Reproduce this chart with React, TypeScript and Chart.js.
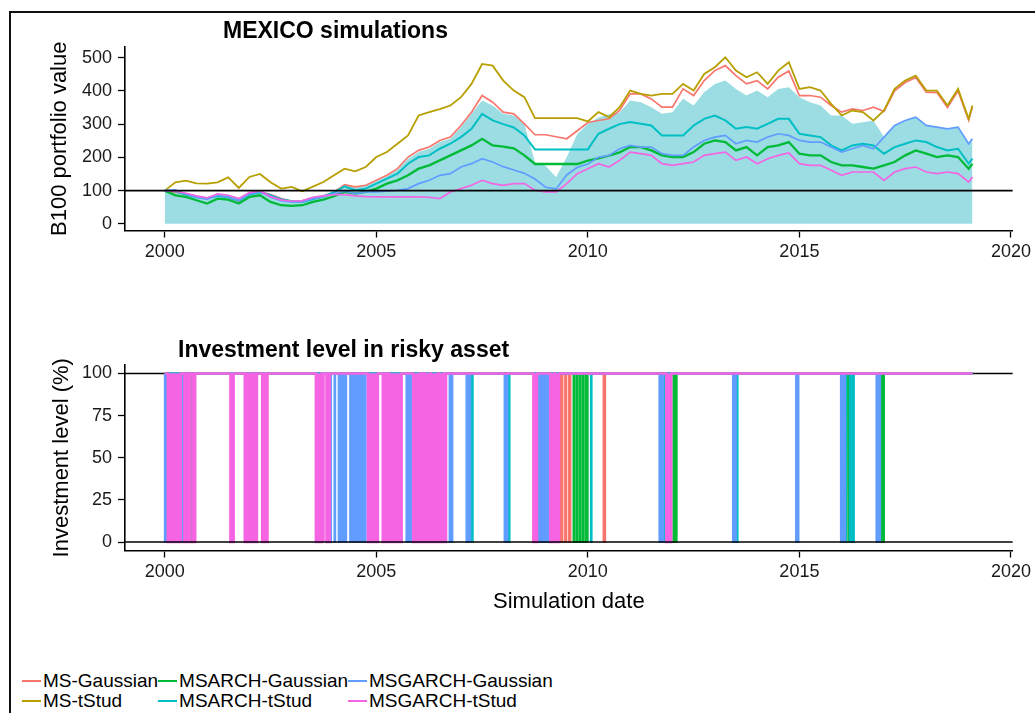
import React, { useEffect, useRef } from 'react';
import { Chart, registerables } from 'chart.js';

Chart.register(...registerables);

const FONT = '"Liberation Sans", Arial, Helvetica, sans-serif';

// ---------- categories / axis ticks ----------
const DATES = [
  2000, 2000.25, 2000.5, 2000.75,
  2001, 2001.25, 2001.5, 2001.75,
  2002, 2002.25, 2002.5, 2002.75,
  2003, 2003.25, 2003.5, 2003.75,
  2004, 2004.25, 2004.5, 2004.75,
  2005, 2005.25, 2005.5, 2005.75,
  2006, 2006.25, 2006.5, 2006.75,
  2007, 2007.25, 2007.5, 2007.75,
  2008, 2008.25, 2008.5, 2008.75,
  2009, 2009.25, 2009.5, 2009.75,
  2010, 2010.25, 2010.5, 2010.75,
  2011, 2011.25, 2011.5, 2011.75,
  2012, 2012.25, 2012.5, 2012.75,
  2013, 2013.25, 2013.5, 2013.75,
  2014, 2014.25, 2014.5, 2014.75,
  2015, 2015.25, 2015.5, 2015.75,
  2016, 2016.25, 2016.5, 2016.75,
  2017, 2017.25, 2017.5, 2017.75,
  2018, 2018.25, 2018.5, 2018.75,
  2019, 2019.09,
];
const X_TICKS = [2000, 2005, 2010, 2015, 2020];
const TOP_Y_TICKS = [0, 100, 200, 300, 400, 500];
const BOTTOM_Y_TICKS = [0, 25, 50, 75, 100];
const DATA_START = 2000;
const DATA_END = 2019.09;

// ---------- B100 portfolio values ----------
const MS_GAUSSIAN = [
  100, 95, 90, 80, 78, 85, 80, 68, 92, 97, 88, 76, 68, 66, 75, 82,
  95, 118, 111, 116, 131, 146, 166, 201, 221, 231, 251, 261, 296, 336, 386, 366,
  336, 331, 301, 268, 268, 262, 256, 280, 305, 311, 316, 341, 391, 391, 376, 351,
  351, 406, 386, 431, 461, 476, 446, 421, 431, 406, 441, 460, 386, 386, 381, 356,
  336, 346, 341, 351, 338, 400, 425, 440, 396, 395, 350, 400, 312, 352,
];
const MS_TSTUD = [
  100, 125, 130, 122, 121, 125, 140, 108, 141, 150, 125, 106, 111, 98, 112, 126,
  146, 166, 158, 171, 201, 216, 241, 266, 326, 336, 345, 356, 381, 421, 481, 476,
  431, 401, 381, 318, 318, 318, 318, 318, 308, 336, 321, 351, 401, 391, 386, 391,
  391, 421, 401, 451, 471, 501, 461, 441, 456, 421, 461, 486, 406, 411, 401, 361,
  326, 341, 336, 311, 341, 406, 431, 446, 401, 401, 356, 406, 316, 356,
];
const MSARCH_GAUSSIAN = [
  100, 86, 81, 71, 61, 76, 73, 61, 81, 86, 66, 56, 54, 56, 66, 73,
  83, 96, 91, 96, 106, 121, 131, 146, 166, 176, 191, 206, 221, 236, 256, 236,
  232, 227, 206, 180, 180, 180, 180, 180, 190, 197, 205, 215, 231, 231, 221, 206,
  201, 201, 216, 241, 251, 246, 221, 231, 206, 231, 236, 246, 211, 206, 206, 186,
  176, 176, 171, 166, 176, 186, 206, 221, 211, 201, 206, 201, 166, 181,
];
const MSARCH_TSTUD = [
  100, 98, 88, 80, 77, 84, 80, 70, 88, 95, 86, 74, 68, 66, 74, 82,
  95, 113, 101, 106, 121, 136, 151, 181, 201, 206, 226, 241, 261, 286, 331, 311,
  300, 290, 266, 224, 224, 224, 224, 224, 224, 271, 286, 300, 306, 301, 296, 266,
  266, 266, 296, 316, 326, 311, 286, 291, 286, 301, 316, 316, 271, 266, 261, 236,
  221, 236, 241, 236, 211, 231, 241, 251, 246, 231, 221, 226, 181, 196,
];
const MSGARCH_GAUSSIAN = [
  100, 102, 90, 80, 74, 86, 80, 70, 90, 97, 80, 70, 66, 66, 76, 82,
  90, 98, 91, 96, 96, 98, 101, 106, 121, 131, 146, 151, 171, 181, 196, 186,
  172, 162, 152, 135, 110, 105, 147, 170, 180, 200, 206, 226, 236, 231, 231, 211,
  206, 206, 231, 251, 261, 266, 241, 251, 246, 261, 271, 266, 251, 246, 246, 231,
  216, 226, 236, 226, 261, 296, 311, 321, 296, 291, 286, 291, 241, 256,
];
const MSGARCH_TSTUD = [
  100, 98, 92, 84, 78, 90, 86, 76, 94, 99, 82, 72, 68, 70, 80, 84,
  88, 88, 84, 82, 81, 81, 81, 81, 81, 80, 76, 96, 106, 116, 131, 121,
  116, 121, 121, 101, 96, 96, 121, 151, 166, 181, 171, 191, 216, 211, 206, 181,
  176, 181, 186, 206, 211, 216, 191, 201, 181, 196, 206, 213, 181, 176, 176, 161,
  146, 156, 156, 156, 131, 156, 166, 171, 156, 151, 156, 151, 126, 141,
];
const RIBBON_UPPER = [
  100, 103, 93, 86, 80, 92, 88, 78, 96, 101, 90, 78, 72, 72, 82, 88,
  98, 118, 112, 116, 128, 143, 163, 196, 216, 226, 246, 256, 291, 331, 371, 356,
  331, 326, 300, 185, 175, 140, 200, 270, 300, 320, 330, 335, 371, 366, 351, 331,
  336, 376, 356, 396, 421, 431, 406, 386, 401, 381, 406, 411, 381, 366, 356, 326,
  326, 301, 306, 311, 261, 296, 311, 321, 296, 291, 286, 291, 241, 256,
];

// ---------- out-of-market periods (investment = 0), [start, end] in years ----------
const OUT_MS_GAUSSIAN = [
  [2009.36, 2009.4], [2009.46, 2009.49], [2009.55, 2009.59], [2010.37, 2010.41],
];
const OUT_MS_TSTUD = [[2016.15, 2016.16]];
const OUT_MSARCH_GAUSSIAN = [
  [2000.61, 2000.65], [2006.59, 2006.6], [2007.19, 2007.21], [2009.66, 2009.68],
  [2009.73, 2009.75], [2009.8, 2009.82], [2009.87, 2009.89], [2009.94, 2009.96],
  [2009.99, 2010.0], [2012.02, 2012.1], [2016.15, 2016.17], [2016.22, 2016.25],
  [2016.92, 2017.0],
];
const OUT_MSARCH_TSTUD = [
  [2007.2, 2007.28], [2008.08, 2008.15], [2010.07, 2010.09], [2011.76, 2011.85],
  [2013.48, 2013.54], [2016.05, 2016.11], [2016.19, 2016.29], [2016.85, 2016.9],
];
const OUT_MSGARCH_GAUSSIAN = [
  [2000.0, 2000.05], [2000.39, 2000.45], [2001.92, 2001.93], [2003.91, 2003.93],
  [2004.01, 2004.03], [2004.11, 2004.13], [2004.17, 2004.19], [2004.21, 2004.23],
  [2004.27, 2004.29], [2004.38, 2004.42], [2004.45, 2004.58], [2004.61, 2004.69],
  [2004.73, 2004.75], [2005.71, 2005.73], [2005.76, 2005.78], [2005.8, 2005.82],
  [2006.04, 2006.05], [2006.13, 2006.15], [2006.73, 2006.8], [2007.13, 2007.22],
  [2008.03, 2008.1], [2008.8, 2008.9], [2008.93, 2009.08], [2011.69, 2011.78],
  [2013.43, 2013.5], [2014.92, 2014.98], [2015.98, 2016.08], [2016.82, 2016.91],
];
const OUT_MSGARCH_TSTUD = [
  [2000.07, 2000.38], [2000.46, 2000.52], [2000.56, 2000.6], [2000.66, 2000.72],
  [2001.55, 2001.63], [2001.89, 2001.91], [2001.95, 2002.02], [2002.04, 2002.1],
  [2002.12, 2002.18], [2002.3, 2002.36], [2002.38, 2002.43], [2003.57, 2003.71],
  [2003.74, 2003.76], [2003.82, 2003.84], [2003.88, 2003.9], [2004.8, 2005.04],
  [2005.15, 2005.16], [2005.2, 2005.25], [2005.3, 2005.6], [2005.87, 2005.95],
  [2005.96, 2006.03], [2006.06, 2006.12], [2006.16, 2006.26], [2006.3, 2006.45],
  [2006.48, 2006.58], [2006.61, 2006.65], [2008.71, 2008.8], [2009.11, 2009.2],
  [2009.23, 2009.32], [2011.85, 2011.97],
];

const SERIES = [
  { name: 'MS-Gaussian', color: '#F8766D', values: MS_GAUSSIAN, out: OUT_MS_GAUSSIAN, width: 1.7, order: 6 },
  { name: 'MS-tStud', color: '#B79F00', values: MS_TSTUD, out: OUT_MS_TSTUD, width: 1.8, order: 5 },
  { name: 'MSARCH-Gaussian', color: '#00BA38', values: MSARCH_GAUSSIAN, out: OUT_MSARCH_GAUSSIAN, width: 2.3, order: 4 },
  { name: 'MSARCH-tStud', color: '#00BFC4', values: MSARCH_TSTUD, out: OUT_MSARCH_TSTUD, width: 2.0, order: 3 },
  { name: 'MSGARCH-Gaussian', color: '#619CFF', values: MSGARCH_GAUSSIAN, out: OUT_MSGARCH_GAUSSIAN, width: 1.7, order: 2 },
  { name: 'MSGARCH-tStud', color: '#F564E3', values: MSGARCH_TSTUD, out: OUT_MSGARCH_TSTUD, width: 1.7, order: 1 },
];
const LEGEND_ORDER = ['MS-Gaussian', 'MS-tStud', 'MSARCH-Gaussian', 'MSARCH-tStud', 'MSGARCH-Gaussian', 'MSGARCH-tStud'];

const X_MIN = 1999.06;
const X_MAX = 2020.04;

function toPoints(values: number[]) {
  return DATES.map((d, i) => ({ x: d, y: values[i] }));
}

function stepPoints(out: number[][]) {
  const pts: { x: number; y: number }[] = [{ x: DATA_START, y: 100 }];
  for (const [a, b] of out) {
    pts.push({ x: a, y: 100 }, { x: a, y: 0 }, { x: b, y: 0 }, { x: b, y: 100 });
  }
  pts.push({ x: DATA_END, y: 100 });
  return pts;
}

function xScale(height: number, title?: { text: string; padBottom: number }) {
  return {
    type: 'linear' as const,
    min: X_MIN,
    max: X_MAX,
    afterBuildTicks: (s: any) => {
      s.ticks = X_TICKS.map((v) => ({ value: v }));
    },
    afterFit: (s: any) => {
      s.height = height;
    },
    grid: { display: true, drawOnChartArea: false, drawTicks: true, tickLength: 7, tickColor: '#000', tickWidth: 1.3, color: '#000' },
    border: { display: true, color: '#000', width: 1.6 },
    ticks: {
      color: '#1a1a1a',
      font: { family: FONT, size: 18 },
      padding: 4,
      maxRotation: 0,
      autoSkip: false,
      callback: (v: any) => String(v),
    },
    title: title
      ? { display: true, text: title.text, color: '#000', font: { family: FONT, size: 22 }, padding: { top: 0, bottom: title.padBottom } }
      : { display: false },
  };
}

function yScale(min: number, max: number, ticks: number[], title: string, padLeft: number) {
  return {
    type: 'linear' as const,
    min,
    max,
    afterBuildTicks: (s: any) => {
      s.ticks = ticks.map((v) => ({ value: v }));
    },
    afterFit: (s: any) => {
      s.width = 125;
    },
    grid: { display: true, drawOnChartArea: false, drawTicks: true, tickLength: 7, tickColor: '#000', tickWidth: 1.3, color: '#000' },
    border: { display: true, color: '#000', width: 1.6 },
    ticks: { color: '#1a1a1a', font: { family: FONT, size: 18 }, padding: 6, autoSkip: false, callback: (v: any) => String(v) },
    title: { display: true, text: title, color: '#000', font: { family: FONT, size: 22 }, padding: { top: padLeft, bottom: 0 } },
  };
}

function hlinePlugin(id: string, value: number, hook: 'beforeDatasetsDraw' | 'afterDatasetsDraw') {
  return {
    id,
    [hook](chart: any) {
      const { ctx, chartArea, scales } = chart;
      const y = scales.y.getPixelForValue(value);
      ctx.save();
      ctx.strokeStyle = '#000';
      ctx.lineWidth = 1.6;
      ctx.beginPath();
      ctx.moveTo(chartArea.left, y);
      ctx.lineTo(chartArea.right, y);
      ctx.stroke();
      ctx.restore();
    },
  };
}

function titlePlugin(id: string, text: string, offsetX: number, baseline: number) {
  return {
    id,
    afterDraw(chart: any) {
      const { ctx, chartArea } = chart;
      ctx.save();
      ctx.font = `bold 23px ${FONT}`;
      ctx.fillStyle = '#000';
      ctx.textAlign = 'left';
      ctx.textBaseline = 'alphabetic';
      ctx.fillText(text, chartArea.left + offsetX, baseline);
      ctx.restore();
    },
  };
}

export default function App() {
  const topRef = useRef<HTMLCanvasElement>(null);
  const bottomRef = useRef<HTMLCanvasElement>(null);

  useEffect(() => {
    const top = new Chart(topRef.current!, {
      type: 'line',
      data: {
        datasets: [
          {
            label: 'band',
            data: toPoints(RIBBON_UPPER),
            fill: 'origin',
            backgroundColor: 'rgb(155, 221, 227)',
            borderWidth: 0,
            borderColor: 'rgba(0,0,0,0)',
            pointRadius: 0,
            order: 10,
          } as any,
          ...SERIES.map((s) => ({
            label: s.name,
            data: toPoints(s.values),
            borderColor: s.color,
            backgroundColor: s.color,
            borderWidth: s.width,
            pointRadius: 0,
            fill: false,
            tension: 0,
            order: s.order,
          })),
        ],
      },
      options: {
        responsive: false,
        maintainAspectRatio: false,
        animation: false,
        events: [],
        layout: { padding: { left: 0, top: 47, right: 21, bottom: 0 } },
        plugins: { legend: { display: false }, tooltip: { enabled: false } },
        scales: {
          x: xScale(34.5) as any,
          y: yScale(-20, 532, TOP_Y_TICKS, 'B100 portfolio value', 47) as any,
        },
      },
      plugins: [hlinePlugin('h100', 100, 'afterDatasetsDraw'), titlePlugin('t1', 'MEXICO simulations', 98, 37.5)],
    });

    const bottom = new Chart(bottomRef.current!, {
      type: 'line',
      data: {
        datasets: SERIES.map((s) => ({
          label: s.name,
          data: stepPoints(s.out),
          borderColor: s.color,
          backgroundColor: s.color,
          borderWidth: s.order === 1 ? 2.4 : 1.9,
          pointRadius: 0,
          fill: { value: 100 },
          tension: 0,
          order: s.order,
        })) as any,
      },
      options: {
        responsive: false,
        maintainAspectRatio: false,
        animation: false,
        events: [],
        layout: { padding: { left: 0, top: 35, right: 21, bottom: 0 } },
        plugins: { legend: { display: false }, tooltip: { enabled: false } },
        scales: {
          x: xScale(69.5, { text: 'Simulation date', padBottom: 5 }) as any,
          y: yScale(-5, 105, BOTTOM_Y_TICKS, 'Investment level (%)', 49) as any,
        },
      },
      plugins: [
        hlinePlugin('h100b', 100, 'beforeDatasetsDraw'),
        hlinePlugin('h0b', 0, 'afterDatasetsDraw'),
        titlePlugin('t2', 'Investment level in risky asset', 53, 27),
      ],
    });

    return () => {
      top.destroy();
      bottom.destroy();
    };
  }, []);

  const byName = Object.fromEntries(SERIES.map((s) => [s.name, s.color]));

  return (
    <div style={{ position: 'fixed', left: 0, top: 0, width: 1035, height: 713, background: '#fff', overflow: 'hidden', fontFamily: FONT }}>
      <canvas ref={topRef} width={1035} height={265} style={{ position: 'absolute', left: 0, top: 0, width: 1035, height: 265 }} />
      <canvas ref={bottomRef} width={1035} height={290} style={{ position: 'absolute', left: 0, top: 330, width: 1035, height: 290 }} />
      <div
        style={{
          position: 'absolute',
          left: 22,
          top: 671,
          display: 'grid',
          gridTemplateRows: 'repeat(2, 20px)',
          gridAutoFlow: 'column',
          gridAutoColumns: 'auto',
          fontSize: 19,
          lineHeight: '20px',
          color: '#000',
          whiteSpace: 'nowrap',
        }}
      >
        {LEGEND_ORDER.map((name) => (
          <div key={name} style={{ display: 'flex', alignItems: 'center' }}>
            <span style={{ display: 'inline-block', width: 19, height: 2, background: byName[name], marginRight: 2 }} />
            <span>{name}</span>
          </div>
        ))}
      </div>
      <div
        style={{
          position: 'absolute',
          left: 9,
          top: 11,
          width: 1200,
          height: 900,
          border: '2px solid #111',
          boxSizing: 'border-box',
          pointerEvents: 'none',
        }}
      />
    </div>
  );
}
